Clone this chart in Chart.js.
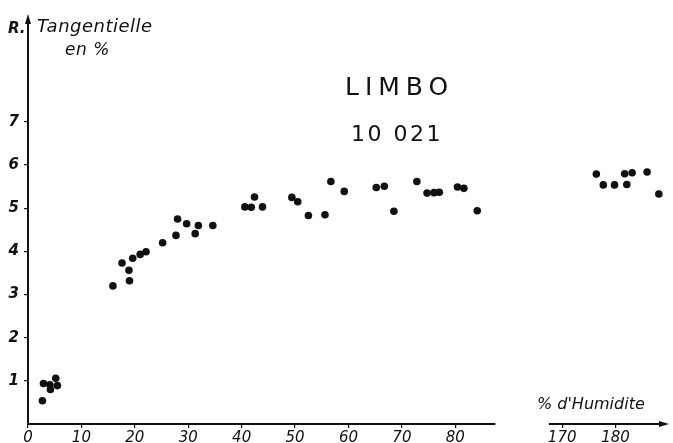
<!DOCTYPE html>
<html>
<head>
<meta charset="utf-8">
<script src="https://cdn.jsdelivr.net/npm/chart.js@4"></script>
<style>
    html, body { margin: 0; padding: 0; background: #fff; }
    #wrap { width: 673px; height: 443px; }
</style>
</head>
<body>
<div id="wrap"><canvas id="chart" width="673" height="443"></canvas></div>
<script>
// humidity (%) and tangential shrinkage (%)
const humidity = [2.9, 2.7, 4.1, 4.2, 5.2, 5.5,
    15.9, 17.6, 18.9, 19.0, 19.6, 21.0, 22.1, 25.2, 27.7, 28.0, 29.7, 31.3, 31.9, 34.6,
    40.6, 41.8, 42.4, 43.9, 49.4, 50.5, 52.5, 55.6, 56.7, 59.2,
    65.2, 66.7, 68.5, 72.8, 74.7, 76.0, 77.0, 80.4, 81.6, 84.1,
    176.4, 177.7, 179.8, 181.7, 182.1, 183.1, 185.9, 188.1];
const shrinkage = [0.94, 0.54, 0.91, 0.80, 1.06, 0.89,
    3.20, 3.73, 3.56, 3.32, 3.84, 3.93, 3.99, 4.20, 4.37, 4.75, 4.64, 4.41, 4.60, 4.60,
    5.03, 5.02, 5.26, 5.03, 5.25, 5.15, 4.83, 4.85, 5.62, 5.39,
    5.48, 5.51, 4.93, 5.62, 5.35, 5.36, 5.37, 5.49, 5.46, 4.94,
    5.79, 5.54, 5.54, 5.80, 5.55, 5.82, 5.84, 5.33];

const xTicks = [0, 10, 20, 30, 40, 50, 60, 70, 80, 170, 180];
const yTicks = [1, 2, 3, 4, 5, 6, 7];

// the humidity axis is cut between ~88 and ~167 : everything past the cut slides left by 70
const CUT = 120, SHIFT = 70;
const toAxis = v => (v >= CUT ? v - SHIFT : v);

const points = humidity.map((h, i) => ({ x: toAxis(h), y: shrinkage[i] }));

const decor = {
    id: 'decor',
    afterDraw(chart) {
        const { ctx, scales: { x, y } } = chart;
        const x0 = x.getPixelForValue(0);
        const y0 = y.getPixelForValue(0);
        ctx.save();
        ctx.strokeStyle = '#111';
        ctx.fillStyle = '#111';
        ctx.lineWidth = 2;

        // x axis, broken between 88 and 167
        ctx.beginPath();
        ctx.moveTo(x0, y0);
        ctx.lineTo(x.getPixelForValue(87.5), y0);
        ctx.moveTo(x.getPixelForValue(toAxis(167.5)), y0);
        ctx.lineTo(x.right - 6, y0);
        ctx.stroke();
        ctx.beginPath();
        ctx.moveTo(x.right, y0);
        ctx.lineTo(x.right - 10, y0 - 3);
        ctx.lineTo(x.right - 10, y0 + 3);
        ctx.closePath();
        ctx.fill();

        // y axis with arrow
        ctx.beginPath();
        ctx.moveTo(x0, y0);
        ctx.lineTo(x0, y.top + 6);
        ctx.stroke();
        ctx.beginPath();
        ctx.moveTo(x0, y.top);
        ctx.lineTo(x0 - 3, y.top + 10);
        ctx.lineTo(x0 + 3, y.top + 10);
        ctx.closePath();
        ctx.fill();

        // axis titles
        ctx.textBaseline = 'middle';
        ctx.textAlign = 'left';
        ctx.font = 'italic bold 15px "DejaVu Sans"';
        ctx.fillText('R.', 8, 29);
        ctx.letterSpacing = '0.5px';
        ctx.font = 'italic 18px "DejaVu Sans"';
        ctx.fillText('Tangentielle', 37, 27);
        ctx.font = 'italic 17px "DejaVu Sans"';
        ctx.fillText('en %', 65, 51);
        ctx.letterSpacing = '0px';
        ctx.font = 'italic 16px "DejaVu Sans"';
        ctx.fillText('% d\'Humidite', 537, 405);

        // title
        ctx.textAlign = 'left';
        ctx.letterSpacing = '6px';
        ctx.font = '25px "DejaVu Sans"';
        ctx.fillText('LIMBO', 345, 88);
        ctx.letterSpacing = '2.5px';
        ctx.font = '22px "DejaVu Sans"';
        ctx.fillText('10 021', 351, 135);
        ctx.restore();
    }
};

new Chart(document.getElementById('chart'), {
    type: 'scatter',
    data: {
        datasets: [{
            data: points,
            backgroundColor: '#111',
            borderColor: '#111',
            pointRadius: 3.8,
            pointBorderWidth: 0
        }]
    },
    options: {
        responsive: false,
        animation: false,
        layout: { padding: { top: 10, right: 0, left: 0, bottom: 0 } },
        plugins: { legend: { display: false }, tooltip: { enabled: false } },
        scales: {
            x: {
                type: 'linear',
                min: 0,
                max: 120,
                afterBuildTicks: scale => { scale.ticks = xTicks.map(v => ({ value: toAxis(v) })); },
                afterFit: scale => { scale.height = 19; },
                ticks: {
                    color: '#111',
                    font: { family: 'DejaVu Sans', style: 'italic', size: 15 },
                    padding: 1,
                    maxRotation: 0,
                    callback: (v, i) => String(xTicks[i])
                },
                grid: { drawOnChartArea: false, color: '#111', tickLength: 4, lineWidth: 1.2 },
                border: { display: false }
            },
            y: {
                min: 0,
                max: 9.5,
                afterBuildTicks: scale => { scale.ticks = yTicks.map(v => ({ value: v })); },
                afterFit: scale => { scale.width = 28; },
                ticks: {
                    color: '#111',
                    font: { family: 'DejaVu Sans', style: 'italic', weight: 'bold', size: 15 },
                    padding: 5
                },
                grid: { drawOnChartArea: false, color: '#111', tickLength: 4, lineWidth: 1.2 },
                border: { display: false }
            }
        }
    },
    plugins: [decor]
});
</script>
</body>
</html>
